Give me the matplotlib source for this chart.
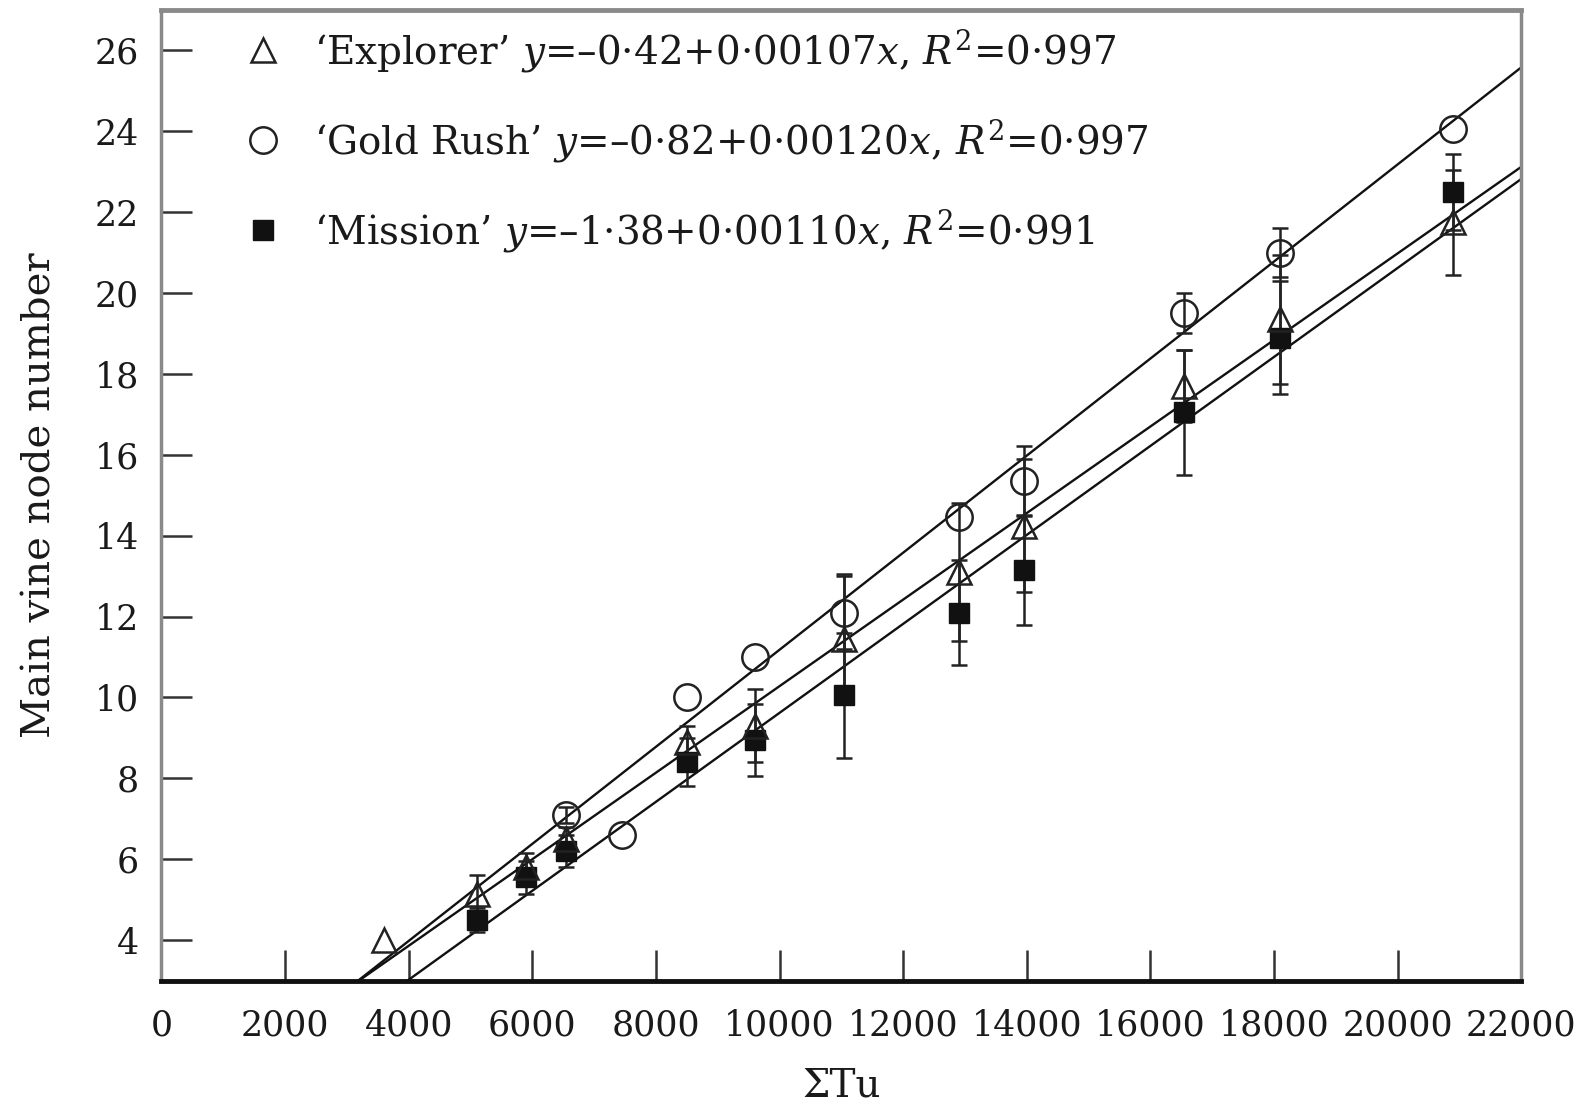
import matplotlib
matplotlib.use("Agg")
import matplotlib.pyplot as plt
import numpy as np
from matplotlib.lines import Line2D

plt.rcParams['font.family'] = ['DejaVu Serif']
plt.rcParams['mathtext.fontset'] = 'custom'
plt.rcParams['mathtext.rm'] = 'DejaVu Serif'
plt.rcParams['mathtext.it'] = 'DejaVu Serif:italic'

# ---- data ----
x_explorer = [3600, 5100, 5900, 6550, 8500, 9600, 11050, 12900, 13950, 16550, 18100, 20900]
y_explorer = [4.0, 5.15, 5.8, 6.5, 8.9, 9.3, 11.45, 13.1, 14.25, 17.7, 19.35, 21.75]
e_explorer = [0.0, 0.45, 0.35, 0.3, 0.4, 0.9, 1.6, 1.7, 1.65, 0.9, 1.6, 1.3]

x_goldrush = [6550, 7450, 8500, 9600, 11050, 12900, 13950, 16550, 18100, 20900]
y_goldrush = [7.1, 6.6, 10.0, 11.0, 12.1, 14.45, 15.35, 19.5, 21.0, 24.05]
e_goldrush = [0.2, 0.0, 0.0, 0.0, 0.9, 0.0, 0.87, 0.5, 0.6, 0.0]

x_mission = [5100, 5900, 6550, 8500, 9600, 11050, 12900, 13950, 16550, 18100, 20900]
y_mission = [4.5, 5.55, 6.2, 8.4, 8.95, 10.05, 12.1, 13.15, 17.05, 18.9, 22.5]
e_mission = [0.3, 0.4, 0.4, 0.6, 0.9, 1.55, 1.3, 1.35, 1.55, 1.4, 0.95]

fits = {  # intercept, slope
    'Explorer': (-0.42, 0.00107),
    'Gold Rush': (-0.82, 0.00120),
    'Mission': (-1.38, 0.00110),
}
labels = [
    "\u2018Explorer\u2019 $y$=\u20130\u00b742+0\u00b700107$x$, $R^2$=0\u00b7997",
    "\u2018Gold Rush\u2019 $y$=\u20130\u00b782+0\u00b700120$x$, $R^2$=0\u00b7997",
    "\u2018Mission\u2019 $y$=\u20131\u00b738+0\u00b700110$x$, $R^2$=0\u00b7991",
]
xticks = list(range(0, 22001, 2000))
yticks = list(range(4, 27, 2))

INK = '#1a1a1a'

fig = plt.figure(figsize=(15.83, 11.03), dpi=100)
ax = fig.add_axes([0.102, 0.111, 0.859, 0.880])

xx = np.array([0, 22000])
for name, (a, b) in fits.items():
    ax.plot(xx, a + b * xx, color='#111111', lw=1.7, zorder=2)

ebkw = dict(ecolor='#222222', elinewidth=1.8, capsize=6, capthick=1.8, zorder=3, fmt='none')


def draw_err(xs, ys, es):
    xs, ys, es = np.asarray(xs), np.asarray(ys), np.asarray(es)
    m = es > 0
    ax.errorbar(xs[m], ys[m], yerr=es[m], **ebkw)


draw_err(x_mission, y_mission, e_mission)
draw_err(x_explorer, y_explorer, e_explorer)
draw_err(x_goldrush, y_goldrush, e_goldrush)

ax.plot(x_mission, y_mission, 's', ms=15, mfc='#111111', mec='#111111', zorder=4, ls='none')
ax.plot(x_explorer, y_explorer, '^', ms=17, mfc='none', mec='#222222', mew=1.8, zorder=5, ls='none')
ax.plot(x_goldrush, y_goldrush, 'o', ms=19, mfc='none', mec='#222222', mew=1.8, zorder=5, ls='none')

ax.set_xlim(0, 22000)
ax.set_ylim(3, 27)
ax.set_xticks(xticks)
ax.set_yticks(yticks)
ax.tick_params(axis='both', direction='in', length=22, width=1.8, color='#333333',
               labelsize=25, labelcolor=INK)
ax.tick_params(axis='x', pad=20)
ax.tick_params(axis='y', pad=16)

ax.set_xlabel("\u03a3Tu", fontsize=28, color=INK, labelpad=18)
ax.set_ylabel("Main vine node number", fontsize=29, color=INK, labelpad=26)

for s in ['top', 'left', 'right']:
    ax.spines[s].set_color('#8a8a8a')
    ax.spines[s].set_linewidth(2.5)
ax.spines['top'].set_linewidth(3.5)
ax.spines['bottom'].set_color('#111111')
ax.spines['bottom'].set_linewidth(3.5)

handles = [
    Line2D([], [], marker='^', ls='none', ms=17, mfc='none', mec='#222222', mew=1.8),
    Line2D([], [], marker='o', ls='none', ms=19, mfc='none', mec='#222222', mew=1.8),
    Line2D([], [], marker='s', ls='none', ms=15, mfc='#111111', mec='#111111'),
]
ax.legend(handles, labels, loc='upper left', bbox_to_anchor=(0.062, 0.982),
          frameon=False, fontsize=28, handlelength=0.9, handletextpad=0.85,
          labelspacing=1.1, borderpad=0, borderaxespad=0, labelcolor=INK)

fig.savefig("out.png", dpi=100)
